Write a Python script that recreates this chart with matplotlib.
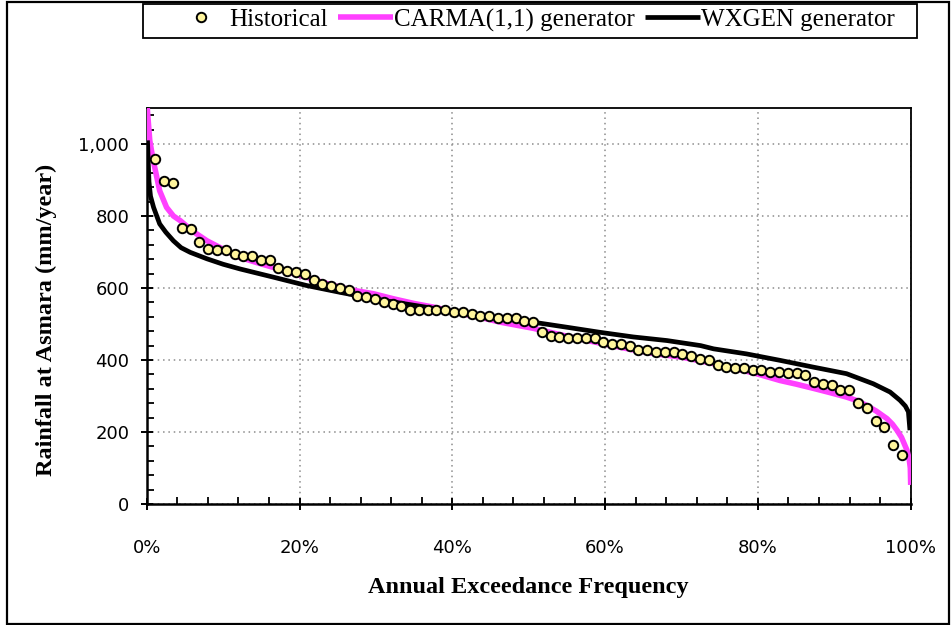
import numpy as np
import matplotlib
matplotlib.use("Agg")
from matplotlib import pyplot as plt
from matplotlib.patches import Rectangle
from matplotlib.ticker import FuncFormatter, MultipleLocator, PercentFormatter

# historical annual rainfall, ranked (mm/year)
hist_vals = [959, 897, 892, 766, 765, 727, 707, 706, 705, 694,
             688, 688, 678, 678, 656, 648, 644, 638, 621, 611,
             606, 600, 595, 579, 574, 570, 560, 555, 551, 540,
             539, 539, 538, 538, 534, 533, 528, 523, 523, 517,
             516, 516, 507, 506, 477, 467, 463, 462, 462, 462,
             461, 450, 444, 444, 439, 429, 429, 423, 423, 423,
             418, 412, 402, 401, 385, 380, 379, 379, 373, 373,
             368, 368, 363, 363, 358, 340, 334, 330, 318, 318,
             280, 268, 231, 213, 163, 136]
n_hist = len(hist_vals)
hist_freq = [i / (n_hist + 1) for i in range(1, n_hist + 1)]

# CARMA(1,1) generator exceedance curve
carma_freq = [0.0, 0.002, 0.004, 0.008, 0.012, 0.017, 0.026, 0.035, 0.044, 0.06,
              0.079, 0.10, 0.122, 0.145, 0.166, 0.19, 0.209, 0.23, 0.253, 0.275,
              0.297, 0.323, 0.35, 0.38, 0.41, 0.437, 0.463, 0.506, 0.55, 0.593,
              0.637, 0.67, 0.70, 0.742, 0.77, 0.798, 0.829, 0.85, 0.873, 0.895,
              0.916, 0.93, 0.942, 0.955, 0.969, 0.976, 0.982, 0.988, 0.995, 0.998,
              0.9995, 1.0]
carma_vals = [1120, 1064, 1010, 960, 920, 870, 824, 800, 787, 758,
              731, 708, 685, 670, 657, 641, 630, 616, 602, 592,
              584, 570, 557, 545, 530, 518, 505, 488, 466, 447,
              428, 416, 408, 390, 376, 362, 343, 333, 321, 309,
              297, 287, 274, 258, 237, 222, 205, 185, 150, 125,
              100, 53]

# WXGEN generator exceedance curve
wx_freq = [0.001, 0.002, 0.003, 0.005, 0.009, 0.017, 0.025, 0.035, 0.045, 0.057,
           0.079, 0.10, 0.122, 0.166, 0.209, 0.253, 0.297, 0.35, 0.40, 0.45,
           0.506, 0.55, 0.593, 0.637, 0.681, 0.725, 0.742, 0.785, 0.829, 0.873,
           0.916, 0.951, 0.973, 0.986, 0.993, 0.997, 0.999]
wx_vals = [1010, 950, 895, 855, 824, 778, 755, 731, 712, 699,
           681, 666, 653, 630, 607, 588, 570, 552, 535, 520,
           505, 491, 477, 464, 454, 440, 431, 417, 399, 380,
           362, 334, 311, 288, 272, 256, 205]

plt.rcParams["font.family"] = "DejaVu Sans"

fig = plt.figure(figsize=(9.51, 6.25), dpi=100)
ax = fig.add_axes([146.7 / 951, 1 - 504 / 625, 764 / 951, 396 / 625])

ax.plot(carma_freq, carma_vals, color="#ff40ff", lw=4.0, solid_capstyle="butt",
        label="CARMA(1,1) generator", zorder=3)
ax.plot(wx_freq, wx_vals, color="black", lw=3.4, solid_capstyle="butt",
        label="WXGEN generator", zorder=4)
ax.plot(hist_freq, hist_vals, ls="none", marker="o", ms=6.8, mfc="#fff59d",
        mec="black", mew=1.4, label="Historical", zorder=5)

ax.set_xlim(0, 1)
ax.set_ylim(0, 1100)
ax.xaxis.set_major_locator(MultipleLocator(0.2))
ax.xaxis.set_minor_locator(MultipleLocator(0.04))
ax.yaxis.set_major_locator(MultipleLocator(200))
ax.yaxis.set_minor_locator(MultipleLocator(40))
ax.xaxis.set_major_formatter(PercentFormatter(xmax=1, decimals=0))
ax.yaxis.set_major_formatter(FuncFormatter(lambda v, p: "{:,.0f}".format(v)))
ax.grid(True, which="major", color="#8c8c8c", ls=(0, (1, 2.5)), lw=1.1)
ax.set_axisbelow(True)

ax.tick_params(which="major", direction="inout", length=9, width=1.4,
               labelsize=13, colors="black")
ax.tick_params(axis="x", which="major", pad=21)
ax.tick_params(axis="y", which="major", pad=8)
ax.tick_params(which="minor", direction="in", length=5, width=1.3)

for side in ["left", "bottom"]:
    ax.spines[side].set_linewidth(1.8)
for side in ["top", "right"]:
    ax.spines[side].set_linewidth(1.3)

ax.set_xlabel("Annual Exceedance Frequency", family="Liberation Serif",
              fontweight="bold", fontsize=17.5, labelpad=14)
ax.set_ylabel("Rainfall at Asmara (mm/year)", family="Liberation Serif",
              fontweight="bold", fontsize=17.5)
ax.yaxis.set_label_coords(-0.118, 0.465)

handles, labels = ax.get_legend_handles_labels()
order = [2, 0, 1]
leg = fig.legend([handles[i] for i in order], [labels[i] for i in order],
                 loc="center", ncol=3, bbox_to_anchor=(534 / 951, 1 - 20 / 625),
                 prop={"family": "Liberation Serif", "size": 18},
                 frameon=False, handlelength=2.2, handletextpad=0.05,
                 columnspacing=0.4, borderaxespad=0, borderpad=0)

fig.patches.append(Rectangle((143 / 951, 1 - 38 / 625), 774 / 951, 34 / 625,
                             transform=fig.transFigure, fill=False,
                             edgecolor="black", lw=1.3))
fig.patches.append(Rectangle((7 / 951, 1 / 625), 942 / 951, 622 / 625,
                             transform=fig.transFigure, fill=False,
                             edgecolor="black", lw=1.6))

fig.savefig("out.png", dpi=100)
